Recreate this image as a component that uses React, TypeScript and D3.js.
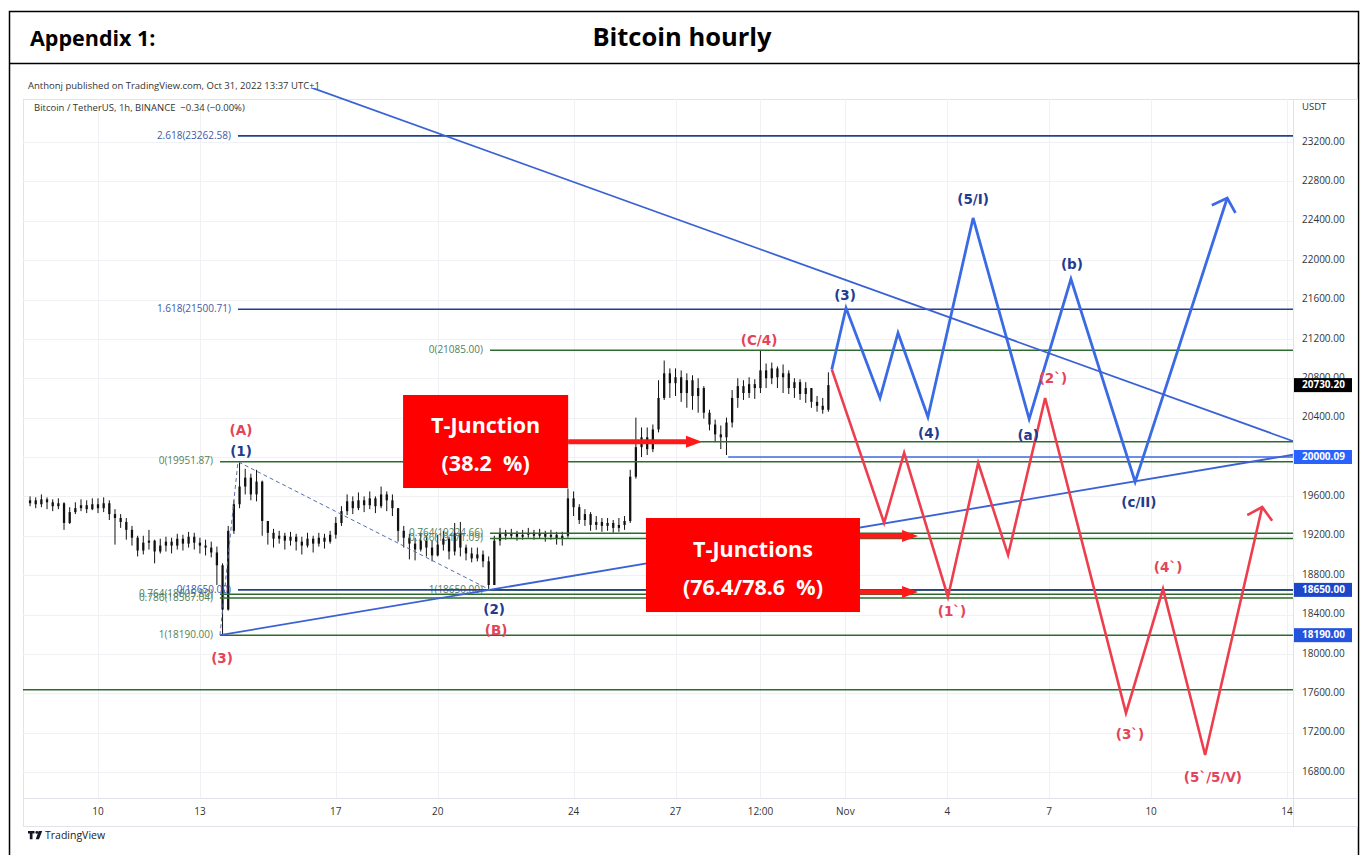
import React from 'react';
import * as d3 from 'd3';

const DAY = 86400000;
const BASE = Date.UTC(2022, 9, 10);
const at = (d: number) => new Date(BASE + d * DAY);

// 4-hour candles from Oct 8 2022 00:00
const candleStart = Date.UTC(2022, 9, 8);
const candleHours = 4;
const firstOpen = 19530;
const closes = [
  19560, 19520, 19570, 19540, 19500, 19530,
  19330, 19440, 19480, 19510, 19470, 19520,
  19480, 19530, 19420, 19380, 19340, 19260,
  19180, 19050, 19130, 19150, 19040, 19100,
  19140, 19100, 19170, 19120, 19190, 19130,
  19100, 19080, 19030, 18900, 18450, 19250,
  19520, 19700,
  19790, 19620, 19750, 19350, 19230,
  19170, 19200, 19150, 19190, 19140, 19100, 19170, 19120, 19180, 19140, 19210,
  19330, 19450, 19550, 19480, 19560, 19510,
  19580, 19500, 19620, 19560, 19480, 19250,
  19180, 19120, 19060, 19150, 19080, 19000,
  19110, 19170, 19040, 19230, 19080, 19020,
  18970, 19010, 18940, 18700, 19150, 19230,
  19200, 19220, 19190, 19210, 19230, 19200, 19220, 19190, 19210, 19170, 19200, 19580,
  19490, 19360, 19420, 19310, 19340, 19300,
  19330, 19280, 19310, 19350, 19800, 20100,
  20200, 20080, 20280, 20600, 20850, 20750,
  20810, 20650, 20780, 20620, 20700, 20450,
  20330, 20230, 20200, 20350, 20600, 20720,
  20650, 20740, 20700, 20880, 20800, 20900,
  20810, 20850, 20700, 20760, 20640, 20700,
  20560, 20520, 20480, 20730,
];
const highs = [
  19600, 19590, 19620, 19590, 19570, 19580,
  19540, 19490, 19540, 19570, 19560, 19580,
  19580, 19590, 19560, 19470, 19420, 19380,
  19300, 19200, 19200, 19260, 19160, 19170,
  19190, 19180, 19220, 19210, 19240, 19230,
  19180, 19160, 19140, 19090, 18920, 19300,
  19560, 19952,
  19880, 19830, 19870, 19760, 19350,
  19270, 19250, 19230, 19240, 19220, 19190, 19230, 19200, 19230, 19220, 19250,
  19390, 19500, 19620, 19600, 19640, 19600,
  19650, 19600, 19700, 19650, 19620, 19480,
  19300, 19220, 19180, 19230, 19200, 19150,
  19210, 19250, 19190, 19330, 19340, 19110,
  19080, 19080, 19050, 18990, 19200, 19280,
  19260, 19270, 19250, 19260, 19280, 19260, 19270, 19250, 19260, 19240, 19240, 19680,
  19650, 19520, 19470, 19440, 19400, 19380,
  19380, 19360, 19380, 19400, 19870, 20400,
  20300, 20300, 20330, 20780, 20980, 20900,
  20900, 20880, 20850, 20830, 20800, 20720,
  20480, 20380, 20320, 20400, 20680, 20800,
  20780, 20810, 20790, 21085, 20950, 20960,
  20920, 20940, 20880, 20800, 20790, 20760,
  20700, 20620, 20600, 20860,
];
const lows = [
  19500, 19480, 19490, 19470, 19450, 19470,
  19260, 19320, 19420, 19450, 19430, 19460,
  19430, 19440, 19360, 19110, 19280, 19160,
  19100, 18990, 19010, 19060, 18920, 19020,
  19040, 19020, 19060, 19050, 19080, 19060,
  19020, 19000, 18980, 18700, 18190, 18440,
  19220, 19480,
  19620, 19560, 19550, 19200, 19110,
  19080, 19120, 19060, 19100, 19050, 19010, 19080, 19030, 19090, 19070, 19120,
  19170, 19300, 19410, 19420, 19460, 19440,
  19470, 19430, 19480, 19450, 19400, 19140,
  19080, 18960, 18950, 19040, 18990, 18940,
  18990, 19050, 18960, 19000, 18990, 18950,
  18930, 18940, 18880, 18650, 18700, 19100,
  19160, 19170, 19150, 19160, 19180, 19160, 19170, 19140, 19160, 19110, 19100, 19180,
  19400, 19320, 19300, 19250, 19260, 19240,
  19250, 19230, 19240, 19260, 19330, 19780,
  20000, 20020, 20050, 20250, 20580, 20600,
  20620, 20560, 20500, 20480, 20450, 20390,
  20270, 20150, 20080, 20020, 20300, 20500,
  20580, 20600, 20590, 20650, 20700, 20740,
  20700, 20650, 20640, 20600, 20580, 20550,
  20500, 20460, 20440, 20460,
];

const priceTicks = [16800, 17200, 17600, 18000, 18400, 18800, 19200, 19600, 20000, 20400, 20800, 21200, 21600, 22000, 22400, 22800, 23200];
const timeTickLabels = ['10', '13', '17', '20', '24', '27', '12:00', 'Nov', '4', '7', '10', '14'];
const timeTickDays = [0, 3, 7, 10, 14, 17, 19.5, 22, 25, 28, 31, 35];

// Fibonacci tools: [level, price]
const greenFibAStart = 3.59;
const greenFibA: [number, number][] = [[0, 19951.87], [0.764, 18605.8], [0.786, 18567.04], [1, 18190.0]];
const blueFibStart = 4.12;
const blueFib: [number, number][] = [[2.618, 23262.58], [1.618, 21500.71], [0, 18650.0]];
const greenFibBStart = 11.54;
const greenFibB: [number, number][] = [[1, 18650.0], [0, 21085.0], [0.382, 20154.83], [0.764, 19224.66], [0.786, 19171.09]];
const extraGreenLevel = 17635;
const blueSupport = { fromDay: 18.55, price: 20000.09 };

// trendlines [day, price]
const descTrend: [number, number][] = [[5.9, 23800], [35.3, 20146]];
const ascTrend: [number, number][] = [[3.59, 18190], [35.3, 20030]];
const dashedSwing: [number, number][] = [[3.59, 18190], [4.12, 19951.87], [11.54, 18650]];

// projections [day, price]
const bluePath: [number, number][] = [
  [21.6, 20890], [22.02, 21514], [23.02, 20600], [23.55, 21260], [24.43, 20406],
  [25.76, 22428], [27.41, 20386], [28.64, 21808], [30.53, 19746], [33.24, 22631],
];
const redPath: [number, number][] = [
  [21.6, 20890], [23.14, 19330], [23.73, 20041], [25.02, 18578], [25.91, 19939],
  [26.79, 19004], [27.88, 20599], [30.26, 17399], [31.35, 18659], [32.59, 16973], [34.27, 19492],
];

const blueLabels: [string, number, number][] = [
  ['(1)', 4.21, 20051], ['(2)', 11.66, 18446], ['(3)', 21.99, 21636], ['(4)', 24.46, 20234],
  ['(5/I)', 25.76, 22611], ['(a)', 27.38, 20213], ['(b)', 28.67, 21950], ['(c/II)', 30.64, 19533],
];
const redLabels: [string, number, number][] = [
  ['(A)', 4.21, 20264], ['(B)', 11.72, 18232], ['(3)', 3.65, 17948], ['(C/4)', 19.46, 21178],
  ['(1`)', 25.14, 18425], ['(2`)', 28.11, 20792], ['(4`)', 31.5, 18872], ['(3`)', 30.38, 17176],
  ['(5`/5/V)', 32.82, 16739],
];

const axisMarks: [number, string][] = [
  [20730.2, '#000000'], [20000.09, '#2962ff'], [18650.0, '#1c47c9'], [18190.0, '#2453de'],
];

// T-junction annotations
const box1 = { d0: 8.98, d1: 13.84, pTop: 20630, pBot: 19685, lines: ['T-Junction', '(38.2  %)'] };
const box2 = { d0: 16.13, d1: 22.43, pTop: 19380, pBot: 18425, lines: ['T-Junctions', '(76.4/78.6  %)'] };
const arrows: [number, number, number][] = [
  [13.84, 17.78, 20154.83],
  [22.43, 24.14, 19197.9],
  [22.43, 24.14, 18628.0],
];

const FONT = "'Open Sans', 'DejaVu Sans', sans-serif";
const LABEL_FONT = "'DejaVu Sans', sans-serif";

export default function App() {
  const W = 1360, H = 855;
  const L = 23, R = 1293, T = 99, B = 798;
  const x = d3.scaleUtc().domain([at(0), at(35)]).range([98, 1287]);
  const y = d3.scaleLinear().domain([16800, 23200]).range([772, 142]);
  const xd = (d: number) => x(at(d));

  const step = x(new Date(candleStart + candleHours * 3600000)) - x(new Date(candleStart));
  const bodyW = Math.max(1.6, step * 0.4);
  const candles = closes.map((c, i) => {
    const o = i === 0 ? firstOpen : closes[i - 1];
    return { t: new Date(candleStart + i * candleHours * 3600000), o, c, h: highs[i], l: lows[i] };
  });

  const line = d3.line<[number, number]>().x(d => xd(d[0])).y(d => y(d[1]));

  const arrowHead = (pts: [number, number][], len: number, ang: number) => {
    const p = pts.map(d => [xd(d[0]), y(d[1])]);
    const [x1, y1] = p[p.length - 2];
    const [x2, y2] = p[p.length - 1];
    const a = Math.atan2(y2 - y1, x2 - x1);
    const ax = x2 - len * Math.cos(a - ang), ay = y2 - len * Math.sin(a - ang);
    const bx = x2 - len * Math.cos(a + ang), by = y2 - len * Math.sin(a + ang);
    return `M${ax},${ay}L${x2},${y2}L${bx},${by}`;
  };

  const fmtLevel = (lv: number, p: number) => `${lv}(${p.toFixed(2)})`;

  const green = '#2f6a2f';
  const greenText = '#52805a';
  const navy = '#26408c';
  const navyText = '#4259a8';

  const renderBox = (b: typeof box1) => {
    const x0 = xd(b.d0), x1 = xd(b.d1), y0 = y(b.pTop), y1 = y(b.pBot);
    const cx = (x0 + x1) / 2, h = y1 - y0;
    return (
      <g>
        <rect x={x0} y={y0} width={x1 - x0} height={h} fill="#ff0000" />
        <text x={cx} y={y0 + h * 0.35} textAnchor="middle" dominantBaseline="middle" fill="#fff"
          fontFamily={FONT} fontWeight={700} fontSize={21.5}>{b.lines[0]}</text>
        <text x={cx} y={y0 + h * 0.76} textAnchor="middle" dominantBaseline="middle" fill="#fff"
          fontFamily={FONT} fontWeight={700} fontSize={21.5} style={{ whiteSpace: 'pre' }}>{b.lines[1]}</text>
      </g>
    );
  };

  return (
    <svg width={W} height={H} style={{ position: 'absolute', left: 0, top: 0, background: '#fff' }}>
      <defs>
        <clipPath id="plot"><rect x={L} y={T} width={R - L} height={B - T} /></clipPath>
        <clipPath id="plotTall"><rect x={L} y={88} width={R - L} height={B - 88} /></clipPath>
      </defs>
      <rect x={0} y={0} width={W} height={H} fill="#fff" />

      {/* header frame */}
      <rect x={9.5} y={11.5} width={1349} height={860} fill="none" stroke="#000" strokeWidth={1.5} />
      <line x1={9} x2={1360} y1={63.5} y2={63.5} stroke="#000" strokeWidth={1.5} />
      <text x={30} y={46} fontFamily={FONT} fontWeight={700} fontSize={21.5} fill="#000">Appendix 1:</text>
      <text x={682} y={46} textAnchor="middle" fontFamily={FONT} fontWeight={700} fontSize={25.5} fill="#000">Bitcoin hourly</text>

      <text x={28} y={89} fontFamily={FONT} fontSize={9.5} fill="#333">Anthonj published on TradingView.com, Oct 31, 2022 13:37 UTC+1</text>

      {/* chart panel */}
      <rect x={L + 0.5} y={T + 0.5} width={1357 - L} height={826 - T} fill="none" stroke="#e0e3eb" />

      {/* grid */}
      <g stroke="#f0f1f4" strokeWidth={1}>
        {priceTicks.map(p => <line key={p} x1={L} x2={R} y1={Math.round(y(p)) + 0.5} y2={Math.round(y(p)) + 0.5} />)}
        {timeTickDays.map((d, i) => <line key={i} x1={Math.round(xd(d)) + 0.5} x2={Math.round(xd(d)) + 0.5} y1={T} y2={B} />)}
      </g>

      <text x={34} y={111} fontFamily={FONT} fontSize={9.5} fill="#333" style={{ whiteSpace: 'pre' }}>Bitcoin / TetherUS, 1h, BINANCE  −0.34 (−0.00%)</text>

      <g clipPath="url(#plot)">
        {/* candles */}
        <g fill="#111" stroke="#111">
          {candles.map((k, i) => {
            const cx = x(k.t);
            const top = y(Math.max(k.o, k.c)), bot = y(Math.min(k.o, k.c));
            return (
              <g key={i}>
                <line x1={cx} x2={cx} y1={y(k.h)} y2={y(k.l)} strokeWidth={1} />
                <rect x={cx - bodyW / 2} y={top} width={bodyW} height={Math.max(1, bot - top)} stroke="none" />
              </g>
            );
          })}
        </g>

        {/* extra green level */}
        <line x1={L} x2={R} y1={y(extraGreenLevel)} y2={y(extraGreenLevel)} stroke={green} strokeWidth={1.5} />

        {/* green fib A */}
        {greenFibA.map(([lv, p]) => (
          <g key={'ga' + lv}>
            <line x1={xd(greenFibAStart)} x2={R} y1={y(p)} y2={y(p)} stroke={green} strokeWidth={1.5} />
            <text x={xd(greenFibAStart) - 7} y={y(p)} textAnchor="end" dominantBaseline="middle" fontFamily={FONT} fontSize={10} fill={greenText}>{fmtLevel(lv, p)}</text>
          </g>
        ))}
        {/* green fib B */}
        {greenFibB.map(([lv, p]) => (
          <g key={'gb' + lv}>
            <line x1={xd(greenFibBStart)} x2={R} y1={y(p)} y2={y(p)} stroke={green} strokeWidth={1.5} />
            <text x={xd(greenFibBStart) - 7} y={y(p)} textAnchor="end" dominantBaseline="middle" fontFamily={FONT} fontSize={10} fill={greenText}>{fmtLevel(lv, p)}</text>
          </g>
        ))}
        {/* blue fib */}
        {blueFib.map(([lv, p]) => (
          <g key={'bf' + lv}>
            <line x1={xd(blueFibStart)} x2={R} y1={y(p)} y2={y(p)} stroke={navy} strokeWidth={1.6} />
            <text x={xd(blueFibStart) - 7} y={y(p)} textAnchor="end" dominantBaseline="middle" fontFamily={FONT} fontSize={10} fill={navyText}>{fmtLevel(lv, p)}</text>
          </g>
        ))}
        <line x1={xd(blueSupport.fromDay)} x2={R} y1={y(blueSupport.price)} y2={y(blueSupport.price)} stroke="#3d6be0" strokeWidth={1.5} />

        {/* trendlines */}
        <path d={line(ascTrend) || ''} fill="none" stroke="#3a62d4" strokeWidth={1.8} />
        <path d={line(dashedSwing) || ''} fill="none" stroke="#5a6cb0" strokeWidth={1} strokeDasharray="4,3" />

        {/* projections */}
        <path d={line(redPath) || ''} fill="none" stroke="#ee3d4d" strokeWidth={2.6} strokeLinejoin="miter" />
        <path d={arrowHead(redPath, 17, 0.85)} fill="none" stroke="#ee3d4d" strokeWidth={2.6} />
        <path d={line(bluePath) || ''} fill="none" stroke="#3a6be4" strokeWidth={2.8} strokeLinejoin="miter" />
        <path d={arrowHead(bluePath, 17, 0.82)} fill="none" stroke="#3a6be4" strokeWidth={2.8} />
      </g>
      <g clipPath="url(#plotTall)">
        <path d={line(descTrend) || ''} fill="none" stroke="#3a62d4" strokeWidth={1.8} />
      </g>
      <g clipPath="url(#plot)">
        {/* wave labels */}
        {redLabels.map(([t, d, p], i) => (
          <text key={'r' + i} x={xd(d)} y={y(p)} textAnchor="middle" dominantBaseline="middle" fontFamily={LABEL_FONT} fontWeight={700} fontSize={13.5} fill="#e2455a">{t}</text>
        ))}
        {blueLabels.map(([t, d, p], i) => (
          <text key={'b' + i} x={xd(d)} y={y(p)} textAnchor="middle" dominantBaseline="middle" fontFamily={LABEL_FONT} fontWeight={700} fontSize={13.5} fill="#1f3c8f">{t}</text>
        ))}
      </g>

      {/* T-junction boxes and arrows */}
      {renderBox(box1)}
      {renderBox(box2)}
      {arrows.map(([d0, d1, p], i) => {
        const x0 = xd(d0), x1 = xd(d1), yy = y(p);
        return (
          <g key={'ar' + i}>
            <line x1={x0} x2={x1 - 14} y1={yy} y2={yy} stroke="#ff1a1a" strokeWidth={5} />
            <path d={`M${x1 - 16},${yy - 6}L${x1},${yy}L${x1 - 16},${yy + 6}Z`} fill="#ff1a1a" />
          </g>
        );
      })}

      {/* price axis */}
      <line x1={R + 0.5} x2={R + 0.5} y1={T} y2={826} stroke="#e0e3eb" />
      <text x={1302} y={107} dominantBaseline="middle" fontFamily={FONT} fontSize={9.5} fill="#333">USDT</text>
      {priceTicks.map(p => (
        <text key={'pt' + p} x={1302} y={y(p)} dominantBaseline="middle" fontFamily={FONT} fontSize={10} fill="#333">{p.toFixed(2)}</text>
      ))}
      {axisMarks.map(([p, c]) => (
        <g key={'am' + p}>
          <rect x={R + 1} y={y(p) - 7} width={58} height={14} fill={c} />
          <text x={1302} y={y(p) + 0.5} dominantBaseline="middle" fontFamily={FONT} fontWeight={700} fontSize={10} fill="#fff">{p.toFixed(2)}</text>
        </g>
      ))}

      {/* time axis */}
      <line x1={L} x2={1357} y1={B + 0.5} y2={B + 0.5} stroke="#e0e3eb" />
      {timeTickLabels.map((t, i) => (
        <text key={'tt' + i} x={xd(timeTickDays[i])} y={812} textAnchor="middle" dominantBaseline="middle" fontFamily={FONT} fontSize={10} fill="#333">{t}</text>
      ))}

      {/* TradingView logo */}
      <g fill="#131722">
        <path d="M28,831 h6.5 v2.6 h-2 v5.6 h-2.7 v-5.6 h-1.8z" />
        <circle cx={36.8} cy={832.4} r={1.4} />
        <path d="M38.6,831 h3.6 l-3.2,8.2 h-3.2z" />
      </g>
      <text x={45} y={839} fontFamily={FONT} fontSize={10.5} fill="#222">TradingView</text>
    </svg>
  );
}
